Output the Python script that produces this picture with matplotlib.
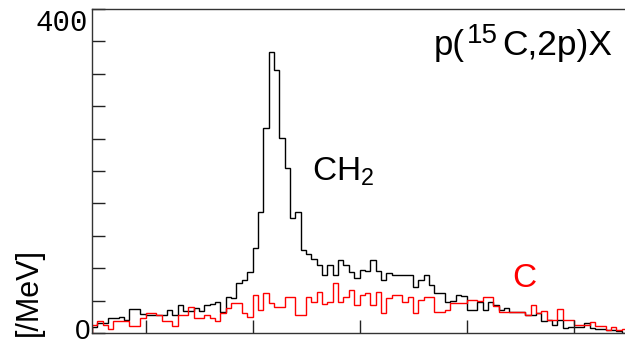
import matplotlib.pyplot as plt
import numpy as np

plt.rcParams['font.family'] = ['Liberation Sans', 'DejaVu Sans']
plt.rcParams['mathtext.fontset'] = 'custom'
plt.rcParams['mathtext.rm'] = 'Liberation Sans'
plt.rcParams['mathtext.it'] = 'Liberation Sans:italic'

# bin edges (MeV), 100 bins of 1 MeV
edges = np.arange(-10, 91, 1)

# CH2 target spectrum (counts / MeV)
ch2 = [8, 12, 12, 18, 18, 20, 16, 30, 30, 24,
       22, 22, 22, 22, 28, 22, 35, 27, 27, 31,
       27, 35, 36, 38, 26, 44, 43, 62, 65, 75,
       105, 149, 253, 347, 325, 241, 204, 142, 149, 102,
       97, 91, 84, 72, 84, 72, 90, 84, 75, 68,
       78, 76, 90, 76, 65, 74, 72, 72, 72, 72,
       57, 65, 72, 59, 50, 50, 38, 40, 47, 46,
       28, 28, 38, 28, 38, 35, 28, 31, 26, 26,
       26, 22, 22, 25, 15, 16, 10, 16, 6, 7,
       7, 7, 12, 6, 5, 5, 4, 4, 2, 0]

# C target spectrum (counts / MeV)
carbon = [10, 15, 10, 5, 15, 15, 15, 9, 9, 18,
          25, 25, 22, 15, 15, 9, 22, 22, 32, 18,
          18, 22, 18, 15, 25, 31, 37, 37, 25, 20,
          47, 28, 49, 37, 32, 32, 45, 45, 22, 22,
          45, 38, 51, 36, 38, 62, 38, 45, 53, 35,
          47, 49, 35, 51, 25, 43, 47, 47, 38, 45,
          25, 41, 44, 44, 26, 26, 28, 37, 37, 37,
          41, 41, 39, 45, 45, 33, 26, 26, 26, 26,
          26, 22, 35, 25, 27, 16, 16, 30, 16, 16,
          10, 10, 10, 14, 9, 9, 4, 7, 4, 5]

yticks = np.arange(0, 401, 40)
xticks = [0, 20, 40, 60, 80]

fig = plt.figure(figsize=(6.25, 3.39), dpi=100)
ax = fig.add_axes([92 / 625, 6 / 339, 535 / 625, 324 / 339])

ax.stairs(ch2, edges, color='black', lw=1.0)
ax.stairs(carbon, edges, color='#ff0000', lw=1.0)

ax.set_xlim(-10, 90)
ax.set_ylim(0, 400)
ax.set_yticks(yticks)
ax.set_xticks(xticks)
ax.tick_params(direction='in', length=9.5, width=1.0, color='#222222',
               labelleft=False, labelbottom=False)
for s in ax.spines.values():
    s.set_color('#333333')
    s.set_linewidth(1.0)

# axis labels (ROOT style: only end labels visible)
fig.text(88 / 625, 1 - 9 / 339, '400', family='Liberation Mono', fontsize=21,
         ha='right', va='top')
fig.text(90 / 625, 7 / 339, '0', fontsize=20, ha='right', va='center')
fig.text(29 / 625, 1 - 248 / 339, '[/MeV]', fontsize=22, rotation=90,
         ha='center', va='top')

# reaction label, built in pieces to get the wide superscript
fig.text(434 / 625, 1 - 55 / 339, 'p(', fontsize=25, ha='left', va='baseline')
fig.text(498 / 625, 1 - 43 / 339, '15', fontsize=20, ha='right', va='baseline')
fig.text(612 / 625, 1 - 55 / 339, 'C,2p)X', fontsize=25.5, ha='right', va='baseline')

fig.text(312 / 625, 1 - 181 / 339, r'CH$_{\mathrm{2}}$', fontsize=24,
         ha='left', va='baseline')
fig.text(512 / 625, 1 - 287 / 339, 'C', fontsize=24, color='#ff0000',
         ha='left', va='baseline')

fig.savefig('out.png', dpi=100)
